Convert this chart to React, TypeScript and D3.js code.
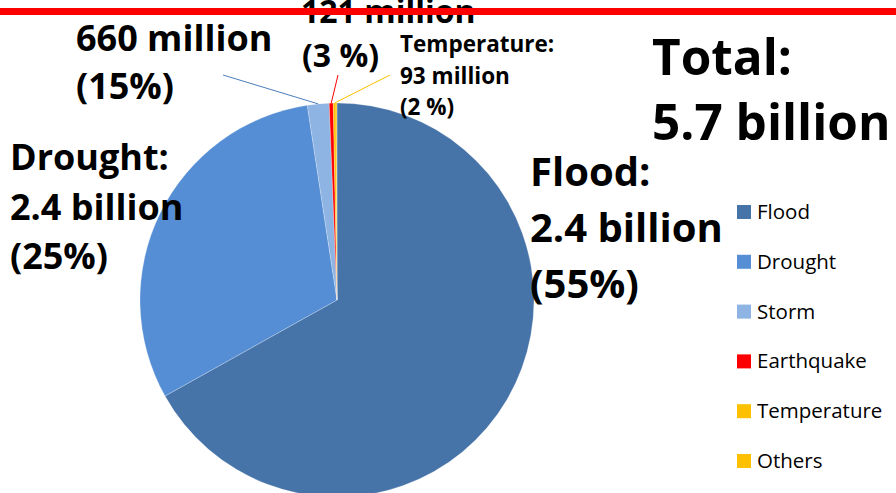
import * as d3 from "d3";

const categories = ["Flood", "Drought", "Storm", "Earthquake", "Temperature", "Others"];
// share of the pie (percent of angle)
const shares = [66.9, 30.7, 1.78, 0.33, 0.22, 0.08];
const colors = ["#4673A8", "#558ED5", "#8EB4E3", "#FF0000", "#FFC000", "#FFC000"];

const WIDTH = 896;
const HEIGHT = 493;
const FONT = "'Open Sans', 'Noto Sans', sans-serif";

export default function App() {
  const cx = 337;
  const cy = 300;
  const radius = 197;

  const data = categories.map((c, i) => ({ name: c, value: shares[i], color: colors[i] }));
  const pie = d3
    .pie<{ name: string; value: number; color: string }>()
    .sort(null)
    .value((d) => d.value);
  const arcs = pie(data);
  const arc = d3
    .arc<d3.PieArcDatum<{ name: string; value: number; color: string }>>()
    .innerRadius(0)
    .outerRadius(radius);

  const edgePoint = (i: number) => {
    const a = (arcs[i].startAngle + arcs[i].endAngle) / 2;
    return [cx + radius * Math.sin(a), cy - radius * Math.cos(a)];
  };

  const storm = edgePoint(2);
  const quake = edgePoint(3);
  const temp = edgePoint(4);

  const legendY = d3.scalePoint<string>().domain(categories).range([212, 461]);

  return (
    <svg
      width={WIDTH}
      height={HEIGHT}
      style={{ position: "absolute", left: 0, top: 0, background: "#fff" }}
      fontFamily={FONT}
    >
      <g transform={`translate(${cx},${cy})`}>
        {arcs.map((a) => (
          <path key={a.data.name} d={arc(a) ?? ""} fill={a.data.color} stroke="#fff" strokeOpacity={0.4} strokeWidth={0.6} />
        ))}
      </g>

      {/* leader lines */}
      <line x1={storm[0]} y1={storm[1]} x2={223} y2={75} stroke="#4A7EBB" strokeWidth={1} />
      <line x1={quake[0]} y1={quake[1]} x2={338} y2={75} stroke="#FF0000" strokeWidth={1} />
      <line x1={temp[0]} y1={temp[1]} x2={390} y2={75} stroke="#FFC000" strokeWidth={1} />

      {/* data labels */}
      <g fontWeight="bold" fill="#000">
        <text x={76} y={51} fontSize={36}>660 million</text>
        <text x={76} y={99} fontSize={36}>(15%)</text>

        <text x={301} y={23} fontSize={32}>121 million</text>
        <text x={302} y={67} fontSize={32}>(3 %)</text>

        <text x={400} y={52} fontSize={22.5}>Temperature:</text>
        <text x={400} y={84} fontSize={22.5}>93 million</text>
        <text x={400} y={115} fontSize={22.5}>(2 %)</text>

        <text x={10} y={170} fontSize={36}>Drought:</text>
        <text x={10} y={220} fontSize={36}>2.4 billion</text>
        <text x={10} y={269} fontSize={36}>(25%)</text>

        <text x={530} y={186} fontSize={40}>Flood:</text>
        <text x={530} y={242} fontSize={40}>2.4 billion</text>
        <text x={530} y={298} fontSize={40}>(55%)</text>

        <text x={652} y={75} fontSize={49.5}>Total:</text>
        <text x={652} y={140} fontSize={49.5}>5.7 billion</text>
      </g>

      {/* title rule */}
      <rect x={0} y={8} width={WIDTH} height={7} fill="#FF0000" />

      {/* legend */}
      {categories.map((c, i) => (
        <g key={c} transform={`translate(737,${legendY(c)})`}>
          <rect x={0} y={-7} width={14} height={14} fill={colors[i]} />
          <text x={20} y={7} fontSize={20.5} fill="#000">{c}</text>
        </g>
      ))}
    </svg>
  );
}
